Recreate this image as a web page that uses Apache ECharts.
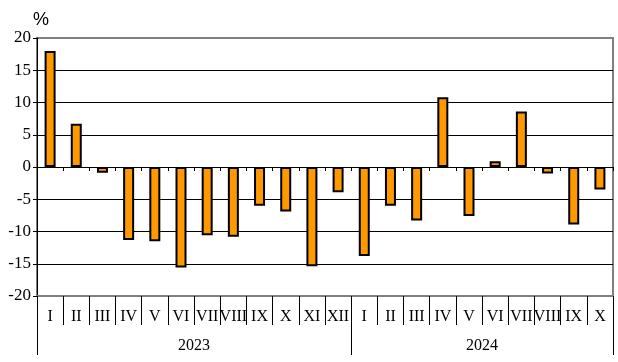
<!DOCTYPE html>
<html>
<head>
<meta charset="utf-8">
<script src="https://cdn.jsdelivr.net/npm/echarts@6/dist/echarts.min.js"></script>
<style>html,body{margin:0;padding:0;background:#fff;}#c{width:618px;height:362px;}</style>
</head>
<body>
<div id="c"></div>
<script>
const months2023 = ['I','II','III','IV','V','VI','VII','VIII','IX','X','XI','XII'];
const months2024 = ['I','II','III','IV','V','VI','VII','VIII','IX','X'];
const values2023 = [18.0, 6.7, -0.9, -11.3, -11.5, -15.6, -10.6, -10.8, -6.0, -6.9, -15.4, -3.9];
const values2024 = [-13.8, -6.0, -8.3, 10.8, -7.6, 0.9, 8.6, -1.0, -8.9, -3.5];
const years = ['2023', '2024'];
const yTicks = [-20, -15, -10, -5, 0, 5, 10, 15, 20];

const categories = months2023.concat(months2024);
const values = values2023.concat(values2024);
const n = categories.length;
const b1 = months2023.length;
const yearBounds = [0, b1, n];
const yearCenters = [b1 / 2, b1 + months2024.length / 2];

const font = 'Liberation Serif';
const chart = echarts.init(document.getElementById('c'));
chart.setOption({
  animation: false,
  title: { text: '%', left: 28, top: 6, textStyle: { fontFamily: 'Liberation Sans', fontSize: 18, fontWeight: 'normal', color: '#000' } },
  grid: { left: 37, right: 5, top: 38, bottom: 66, show: true, borderColor: '#808080', borderWidth: 2 },
  xAxis: [
    {
      type: 'category', data: categories, position: 'bottom',
      axisLine: { onZero: false, lineStyle: { color: '#808080', width: 2 } },
      axisTick: { show: true, interval: 0, length: 29, lineStyle: { color: '#000', width: 1 } },
      axisLabel: { interval: 0, fontFamily: font, fontSize: 16, color: '#000', margin: 13 },
      splitLine: { show: false }
    },
    {
      type: 'value', min: 0, max: n, position: 'bottom',
      axisLine: { show: false, onZero: false },
      axisTick: { show: true, customValues: yearBounds, length: 59, lineStyle: { color: '#000', width: 1 } },
      axisLabel: { customValues: yearCenters, fontFamily: font, fontSize: 16, color: '#000', margin: 42,
        formatter: v => years[yearCenters.indexOf(v)] || '' },
      splitLine: { show: false }
    },
    {
      type: 'category', data: categories, position: 'bottom',
      axisLine: { onZero: true, lineStyle: { color: '#000', width: 1 } },
      axisTick: { show: true, interval: 0, length: 4, lineStyle: { color: '#000', width: 1 } },
      axisLabel: { show: false },
      splitLine: { show: false }
    }
  ],
  yAxis: {
    type: 'value', min: -20, max: 20, interval: 5,
    axisLine: { show: true, lineStyle: { color: '#000', width: 1 } },
    axisTick: { show: true, length: 4, lineStyle: { color: '#000' } },
    axisLabel: { fontFamily: font, fontSize: 17, color: '#000', margin: 6,
      customValues: yTicks },
    splitLine: { show: true, lineStyle: { color: ['#808080','#000','#000','#000','#000','#000','#000','#000','#808080'], width: 1 } }
  },
  series: [{
    type: 'bar', data: values, xAxisIndex: 0, yAxisIndex: 0,
    barWidth: 11,
    itemStyle: { color: '#FF9900', borderColor: '#000', borderWidth: 2 }
  }]
});
</script>
</body>
</html>
